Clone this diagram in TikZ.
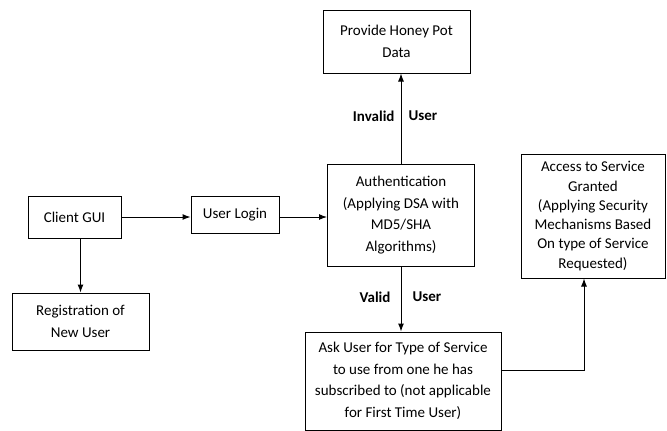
\documentclass[tikz,border=0pt]{standalone}
\usepackage{fontspec}
\setmainfont{Carlito}
\usetikzlibrary{arrows.meta}

\begin{document}
\begin{tikzpicture}[x=1pt,y=-1pt,>={Latex[length=8pt,width=6pt]},
    blk/.style={draw,line width=1pt,inner sep=0pt,align=center,font=\fontsize{15}{21.5}\selectfont},
    lbl/.style={font=\fontsize{15}{18}\selectfont\bfseries},
    flow/.style={->,line width=1pt}]
        \useasboundingbox (0,0) rectangle (667,431);
        \node[blk,minimum width=147pt,minimum height=63pt] (honey) at (396.5,41.5) {Provide Honey Pot\\Data};
        \node[blk,minimum width=93pt,minimum height=42pt] (client) at (74.5,217) {Client GUI};
        \node[blk,minimum width=88pt,minimum height=37pt] (login) at (235,214.5) {User Login};
        \node[blk,minimum width=147pt,minimum height=102pt] (auth) at (401,215) {Authentication\\(Applying DSA with\\MD5/SHA\\Algorithms)};
        \node[blk,minimum width=144pt,minimum height=124pt,font=\fontsize{15}{19.3}\selectfont] (access) at (593,216) {Access to Service\\Granted\\(Applying Security\\Mechanisms Based\\On type of Service\\Requested)};
        \node[blk,minimum width=137pt,minimum height=57pt] (reg) at (80.5,321.5) {Registration of\\New User};
        \node[blk,minimum width=196pt,minimum height=98pt] (ask) at (403,381) {Ask User for Type of Service\\to use from one he has\\subscribed to (not applicable\\for First Time User)};
        \coordinate (turn) at (584,370);
        \draw[flow] (client.east |- 0,217) -- (login.west |- 0,217);
        \draw[flow] (login.east |- 0,217) -- (auth.west |- 0,217);
        \draw[flow] (client.south -| reg.north) -- (reg.north);
        \draw[flow] (auth.north) -- (auth.north |- honey.south);
        \draw[flow] (auth.south) -- (auth.south |- ask.north);
        \draw[flow] (ask.east |- turn) -- (turn) -- (turn |- access.south);
        \node[lbl,anchor=east] (inv) at (398,116) {Invalid};
        \node[lbl,anchor=west] (invu) at (405,116) {User};
        \node[lbl,anchor=east] (val) at (394,297) {Valid};
        \node[lbl,anchor=west] (valu) at (409,297) {User};
    \end{tikzpicture}
\end{document}
